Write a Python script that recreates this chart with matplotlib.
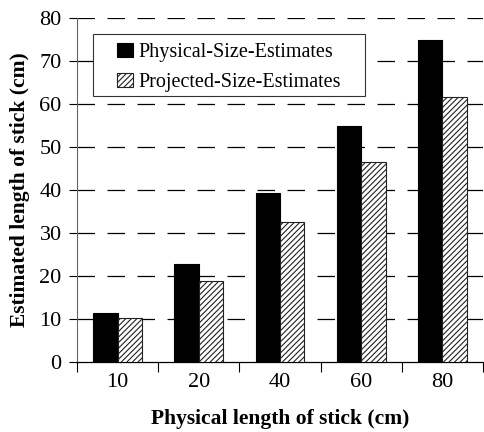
import numpy as np
import matplotlib.pyplot as plt
import matplotlib as mpl
from matplotlib.patches import Rectangle

lengths = ['10', '20', '40', '60', '80']
physical = [11.5, 22.9, 39.4, 55.0, 75.0]
projected = [10.2, 18.9, 32.6, 46.5, 61.7]

mpl.rcParams['font.family'] = 'Liberation Serif'
mpl.rcParams['hatch.linewidth'] = 0.8
mpl.rcParams['hatch.color'] = '#666666'

fig = plt.figure(figsize=(4.84, 4.32), dpi=100)
ax = fig.add_axes([0.159, 0.162, 0.839, 0.796])

x = np.arange(len(lengths))
w = 0.3
ax.bar(x - w/2, physical, w, color='black', edgecolor='black', linewidth=0.8,
       label='Physical-Size-Estimates', zorder=3)
ax.bar(x + w/2, projected, w, color='white', edgecolor='#222222', linewidth=0.8,
       hatch='//////', label='Projected-Size-Estimates', zorder=3)

ax.set_xlim(-0.5, len(lengths) - 0.5)
ax.set_ylim(0, 80)
ax.set_yticks(range(0, 81, 10))
for v in range(10, 81, 10):
    ax.axhline(v, color='black', linewidth=0.9, dashes=(14, 10), zorder=1)

ax.set_xticks(x)
ax.set_xticklabels(lengths)
ax.set_xticks(np.arange(-0.5, len(lengths)), minor=True)
ax.tick_params(axis='x', which='major', length=0, pad=8, labelsize=16)
ax.tick_params(axis='x', which='minor', length=7, width=0.8, direction='out')
ax.tick_params(axis='y', length=6, width=0.8, labelsize=16, pad=5)

for s in ['top', 'right']:
    ax.spines[s].set_visible(False)
ax.spines['left'].set_color('#666666')
ax.spines['left'].set_linewidth(0.8)
ax.spines['bottom'].set_linewidth(0.9)

ax.set_xlabel('Physical length of stick (cm)', fontsize=15.5, fontweight='bold', labelpad=12)
ax.set_ylabel('Estimated length of stick (cm)', fontsize=15.5, fontweight='bold', labelpad=7)

# legend box is wider than the entries, draw it separately
box = Rectangle((0.039, 0.773), 0.67, 0.18, transform=ax.transAxes,
                facecolor='white', edgecolor='#333333', linewidth=0.8, zorder=5)
ax.add_patch(box)
leg = ax.legend(loc='center left', bbox_to_anchor=(0.098, 0.856), fontsize=14.5,
                frameon=False, handlelength=0.8, handleheight=0.7, handletextpad=0.3,
                borderpad=0, labelspacing=0.55, borderaxespad=0)
leg.set_zorder(6)

fig.savefig('out.png', dpi=100)
